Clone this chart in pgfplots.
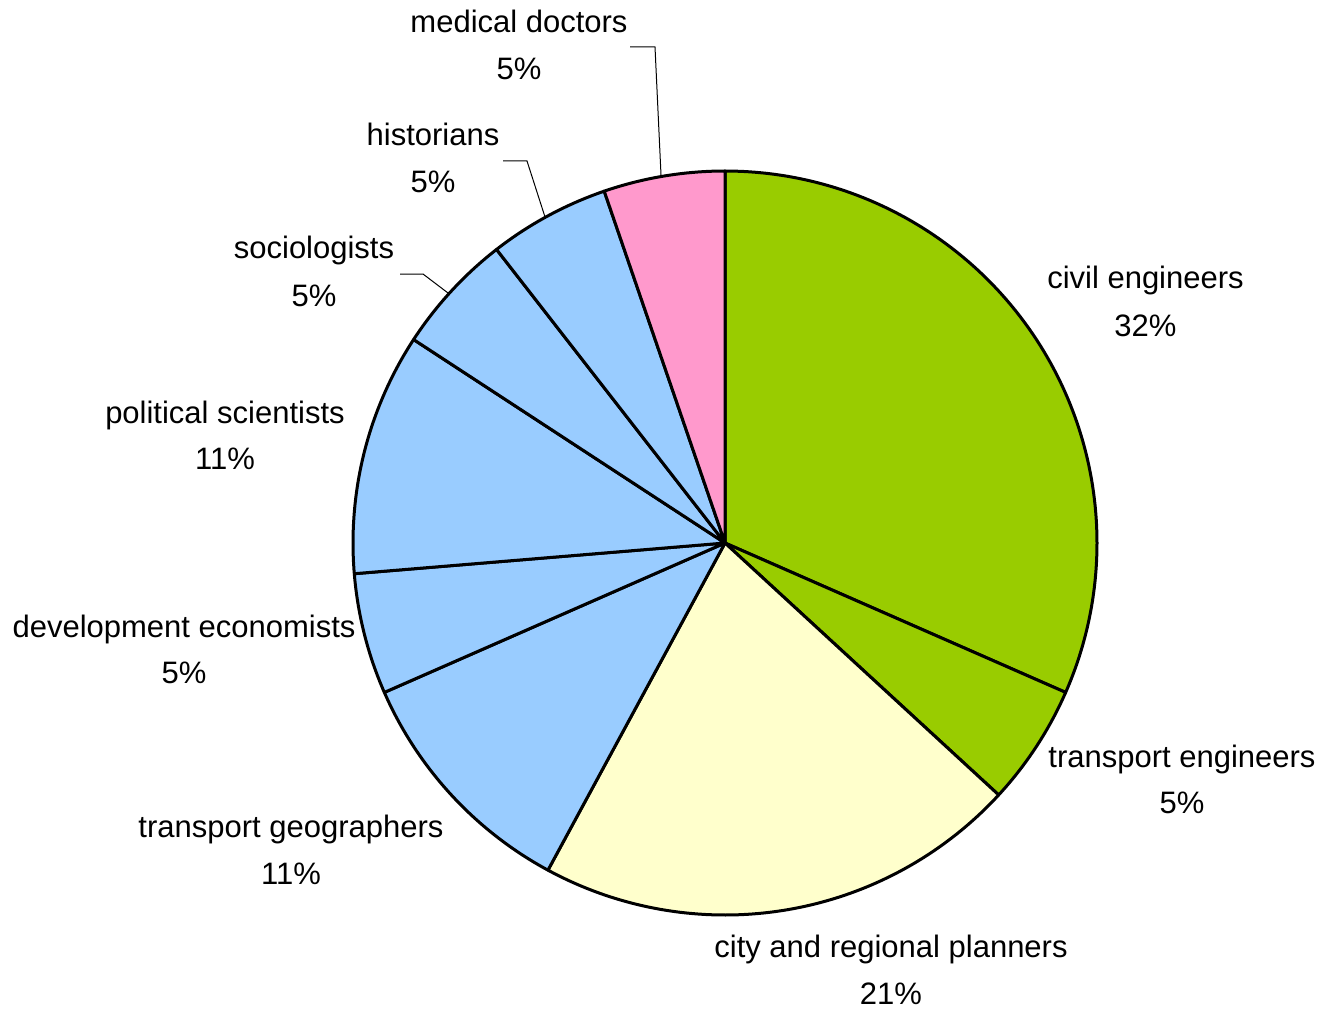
\documentclass[border=0pt]{standalone}
\usepackage{pgfplots}
\pgfplotsset{compat=1.18}
\usepackage{fontspec}
\setmainfont{Liberation Sans}
\definecolor{cgreen}{HTML}{99CC00}
\definecolor{cyellow}{HTML}{FFFFCC}
\definecolor{cblue}{HTML}{99CCFF}
\definecolor{cpink}{HTML}{FF99CC}
\def\total{19}
\def\cum{0}
\newcommand\slice[2]{%
  \pgfmathsetmacro\sa{90-\cum*360/\total}%
  \pgfmathsetmacro\newcum{\cum+#1}%
  \pgfmathsetmacro\sb{90-\newcum*360/\total}%
  \global\let\cum\newcum
  \edef\temp{\noexpand\addplot[fill=#2, draw=black, line width=1.5pt, line join=round,
     domain=\sb:\sa, samples=150, variable=\noexpand\t]
     ({725+372*cos(\noexpand\t)},{466+372*sin(\noexpand\t)}) -- (axis cs:725,466) -- cycle;}%
  \temp}
\newcommand\lab[5]{% x, baseline1 (px from top), baseline2, text, pct
  \node[anchor=base, inner sep=0pt] at (axis cs:#1,{1009-#2}) {#4};
  \node[anchor=base, inner sep=0pt] at (axis cs:#1,{1009-#3}) {#5};}
\begin{document}
\begin{tikzpicture}
\begin{axis}[
  width=661pt, height=504.5pt, scale only axis,
  xmin=0, xmax=1322, ymin=0, ymax=1009,
  hide axis, clip=false,
  font=\fontsize{15.5}{18}\selectfont,
]
\draw[draw=none] (axis cs:0,0) rectangle (axis cs:1322,1009);
% counts (share of 19)
\slice{6}{cgreen}   % civil engineers
\slice{1}{cgreen}   % transport engineers
\slice{4}{cyellow}  % city and regional planners
\slice{2}{cblue}    % transport geographers
\slice{1}{cblue}    % development economists
\slice{2}{cblue}    % political scientists
\slice{1}{cblue}    % sociologists
\slice{1}{cblue}    % historians
\slice{1}{cpink}    % medical doctors
% leader lines
\addplot[black, line width=0.5pt] coordinates {(630,962) (655,962) (661,834)};
\addplot[black, line width=0.5pt] coordinates {(503,848) (527,848) (545,792)};
\addplot[black, line width=0.5pt] coordinates {(400,735) (423,735) (448,716)};
% labels
\lab{1145.5}{289}{336}{civil engineers}{32\%}
\lab{1182}{767}{813}{transport engineers}{5\%}
\lab{891}{957}{1004}{city and regional planners}{21\%}
\lab{291}{837}{884}{transport geographers}{11\%}
\lab{184}{637}{683}{development economists}{5\%}
\lab{225}{423}{469}{political scientists}{11\%}
\lab{314}{259}{306}{sociologists}{5\%}
\lab{433}{146}{193}{historians}{5\%}
\lab{519}{33}{80}{medical doctors}{5\%}
\end{axis}
\end{tikzpicture}
\end{document}
